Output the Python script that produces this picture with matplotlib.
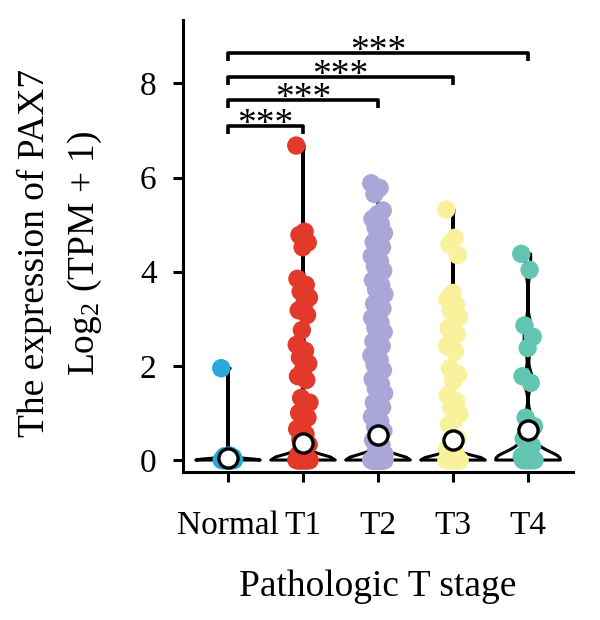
import numpy as np
import matplotlib
matplotlib.use("Agg")
import matplotlib.pyplot as plt

plt.rcParams["font.family"] = ["Liberation Serif", "DejaVu Serif"]
plt.rcParams["mathtext.fontset"] = "custom"
plt.rcParams["mathtext.rm"] = "Liberation Serif"
plt.rcParams["mathtext.it"] = "Liberation Serif:italic"

# values (log2(TPM+1) of PAX7 per T stage)
groups = ["Normal", "T1", "T2", "T3", "T4"]
colors = ["#2aa9d8", "#e2392b", "#aaa6d8", "#f9f19c", "#62c5b1"]

normal = [1.95, 0.10, 0.08, 0.06, 0.04, 0.02] + [0.0] * 14
t1 = [6.68, 4.85, 4.78, 4.62, 4.52, 3.85, 3.72, 3.58, 3.45, 3.30, 3.18, 3.08,
      2.76, 2.45, 2.32, 2.18, 2.05, 1.92, 1.78, 1.70, 1.32, 1.22, 1.12, 1.00,
      0.90, 0.78, 0.66, 0.55, 0.44, 0.33, 0.22, 0.12, 0.06] + [0.0] * 25
t2 = [5.88, 5.78, 5.65, 5.30, 5.22, 5.12, 5.02, 4.93, 4.82, 4.72, 4.63, 4.52,
      4.41, 4.33, 4.22, 4.12, 4.02, 3.93, 3.82, 3.71, 3.62, 3.52, 3.41, 3.32,
      3.22, 3.11, 3.02, 2.92, 2.81, 2.72, 2.61, 2.52, 2.42, 2.31, 2.22, 2.12,
      2.02, 1.91, 1.82, 1.72, 1.61, 1.52, 1.42, 1.31, 1.22, 1.12, 1.02, 0.92,
      0.82, 0.71, 0.62, 0.52, 0.42, 0.32, 0.22, 0.12, 0.05] + [0.0] * 60
t3 = [5.32, 4.72, 4.58, 4.35, 3.55, 3.42, 3.30, 3.18, 3.05, 2.92, 2.80, 2.68,
      2.55, 2.42, 2.30, 1.95, 1.82, 1.68, 1.38, 1.25, 1.12, 0.98, 0.86, 0.75,
      0.46, 0.35, 0.24, 0.14, 0.06] + [0.0] * 30
t4 = [4.38, 4.04, 2.86, 2.62, 2.38, 1.78, 1.64, 0.90, 0.72, 0.58, 0.45, 0.30,
      0.18, 0.08] + [0.0] * 12
data = [normal, t1, t2, t3, t4]

centers = [0.04, 0.36, 0.53, 0.42, 0.64]

pairs = [(0, 1), (0, 2), (0, 3), (0, 4)]
bracket_y = [7.09, 7.64, 8.13, 8.64]
stars = ["***", "***", "***", "***"]

bandwidths = [0.06, 0.06, 0.06, 0.06, 0.12]

fig = plt.figure(figsize=(6, 6.2), dpi=100)
ax = fig.add_axes([0.305, 0.239, 0.65, 0.729])

pos = np.arange(len(groups))
for i, vals in enumerate(data):
    vp = ax.violinplot([vals], positions=[pos[i]], widths=0.86,
                       showextrema=False, bw_method=bandwidths[i])
    for body in vp["bodies"]:
        body.set_facecolor("none")
        body.set_edgecolor("black")
        body.set_linewidth(2.2)
        body.set_alpha(1)
        body.set_zorder(1)

for i, vals in enumerate(data):
    n = len(vals)
    jit = ((np.arange(n) * 0.618) % 1 - 0.5) * 0.18
    ax.scatter(pos[i] + jit, vals, s=175, color=colors[i], edgecolors="none",
               zorder=2)

ax.scatter(pos, centers, s=190, facecolor="white", edgecolor="black",
           linewidth=2.4, zorder=4)

drop = 0.17
for (a, b), y, s in zip(pairs, bracket_y, stars):
    ax.plot([pos[a], pos[a], pos[b], pos[b]], [y - drop, y, y, y - drop],
            color="black", lw=2.6, solid_capstyle="butt", clip_on=False)
    ax.text((pos[a] + pos[b]) / 2, y - 0.16, s, ha="center", va="baseline",
            fontsize=27)

ax.set_xlim(-0.6, 4.6)
ax.set_ylim(-0.25, 9.35)
ax.set_xticks(pos)
ax.set_xticklabels(groups)
ax.set_yticks([0, 2, 4, 6, 8])
ax.tick_params(axis="both", labelsize=24, width=2.2, length=7.5)
ax.tick_params(axis="y", pad=11.5)
ax.tick_params(axis="x", pad=20)
for side in ["top", "right"]:
    ax.spines[side].set_visible(False)
for side in ["left", "bottom"]:
    ax.spines[side].set_linewidth(2.2)

ax.set_xlabel("Pathologic T stage", fontsize=27, labelpad=21)
fig.text(0.058, 0.592, "The expression of PAX7", rotation=90, fontsize=27,
         ha="center", va="center")
fig.text(0.142, 0.592, "Log$_2$ (TPM + 1)", rotation=90, fontsize=27,
         ha="center", va="center")

fig.savefig("out.png", dpi=100)
